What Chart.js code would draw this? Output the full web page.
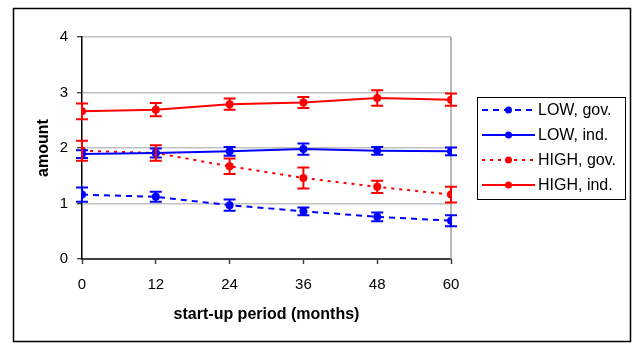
<!DOCTYPE html>
<html>
<head>
<meta charset="utf-8">
<script src="https://cdn.jsdelivr.net/npm/chart.js@4"></script>
<style>
  html, body { margin: 0; padding: 0; background: #fff; }
  canvas { display: block; }
</style>
</head>
<body>
<canvas id="chart" width="636" height="344"></canvas>
<script>
// data
const months = [0, 12, 24, 36, 48, 60];
const yTicks = [0, 1, 2, 3, 4];
const seriesNames = ['LOW, gov.', 'LOW, ind.', 'HIGH, gov.', 'HIGH, ind.'];

const lowGov = [1.16, 1.12, 0.97, 0.86, 0.76, 0.69];
const lowGovErr = [0.13, 0.09, 0.10, 0.07, 0.08, 0.10];
const lowInd = [1.89, 1.91, 1.94, 1.98, 1.95, 1.94];
const lowIndErr = [0.07, 0.08, 0.08, 0.10, 0.07, 0.07];
const highGov = [1.95, 1.91, 1.67, 1.46, 1.30, 1.16];
const highGovErr = [0.18, 0.14, 0.14, 0.19, 0.11, 0.14];
const highInd = [2.66, 2.69, 2.79, 2.82, 2.90, 2.87];
const highIndErr = [0.14, 0.12, 0.10, 0.10, 0.14, 0.11];

const BLUE = '#0000ff';
const RED = '#ff0000';
Chart.defaults.font.family = '"Liberation Sans", Arial, sans-serif';
Chart.defaults.color = '#000';

function makeSet(label, values, errs, color, dash) {
  return {
    label,
    data: months.map((m, i) => ({ x: m, y: values[i] })),
    err: errs,
    borderColor: color,
    backgroundColor: color,
    borderWidth: 2,
    borderDash: dash,
    pointRadius: 4,
    pointBorderWidth: 0,
    pointBackgroundColor: color,
    tension: 0
  };
}

const datasets = [
  makeSet(seriesNames[0], lowGov, lowGovErr, BLUE, [6, 5]),
  makeSet(seriesNames[1], lowInd, lowIndErr, BLUE, []),
  makeSet(seriesNames[2], highGov, highGovErr, RED, [3, 5]),
  makeSet(seriesNames[3], highInd, highIndErr, RED, [])
];

// outer frame + right edge of the plot
const framePlugin = {
  id: 'frame',
  beforeDraw(chart) {
    const ctx = chart.ctx;
    ctx.save();
    ctx.fillStyle = '#fff';
    ctx.fillRect(0, 0, chart.width, chart.height);
    ctx.strokeStyle = '#000';
    ctx.lineWidth = 1.5;
    ctx.strokeRect(13.5, 8.5, 617, 333);
    ctx.restore();
  },
  beforeDatasetsDraw(chart) {
    const a = chart.chartArea;
    const ctx = chart.ctx;
    ctx.save();
    ctx.strokeStyle = '#a0a0a0';
    ctx.lineWidth = 1.5;
    ctx.beginPath();
    ctx.moveTo(a.right, a.top);
    ctx.lineTo(a.right, a.bottom);
    ctx.stroke();
    ctx.restore();
  }
};

// vertical error bars with caps
const errorBars = {
  id: 'errorBars',
  afterDatasetsDraw(chart) {
    const ctx = chart.ctx;
    const xs = chart.scales.x, ys = chart.scales.y;
    ctx.save();
    chart.data.datasets.forEach(ds => {
      ctx.strokeStyle = ds.borderColor;
      ctx.lineWidth = 2;
      ctx.setLineDash([]);
      ds.data.forEach((p, i) => {
        const x = xs.getPixelForValue(p.x);
        const y1 = ys.getPixelForValue(p.y + ds.err[i]);
        const y2 = ys.getPixelForValue(p.y - ds.err[i]);
        ctx.beginPath();
        ctx.moveTo(x, y1); ctx.lineTo(x, y2);
        ctx.moveTo(x - 6, y1); ctx.lineTo(x + 6, y1);
        ctx.moveTo(x - 6, y2); ctx.lineTo(x + 6, y2);
        ctx.stroke();
      });
    });
    ctx.restore();
  }
};

// boxed legend on the right, line + dot samples
const boxLegend = {
  id: 'boxLegend',
  afterDraw(chart) {
    const ctx = chart.ctx;
    ctx.save();
    ctx.strokeStyle = '#000';
    ctx.lineWidth = 1;
    ctx.strokeRect(477.5, 97.5, 148, 102);
    chart.data.datasets.forEach((ds, i) => {
      const y = 110 + i * 25;
      ctx.strokeStyle = ds.borderColor;
      ctx.lineWidth = 2;
      ctx.setLineDash(ds.borderDash);
      ctx.beginPath();
      ctx.moveTo(482, y); ctx.lineTo(535, y);
      ctx.stroke();
      ctx.setLineDash([]);
      ctx.fillStyle = ds.borderColor;
      ctx.beginPath();
      ctx.arc(508.5, y, 3.5, 0, Math.PI * 2);
      ctx.fill();
      ctx.fillStyle = '#000';
      ctx.font = '16px "Liberation Sans", Arial, sans-serif';
      ctx.textBaseline = 'middle';
      ctx.fillText(ds.label, 538, y + 1);
    });
    ctx.restore();
  }
};

new Chart(document.getElementById('chart'), {
  type: 'line',
  data: { datasets },
  plugins: [framePlugin, errorBars, boxLegend],
  options: {
    responsive: false,
    animation: false,
    layout: { padding: { left: 13, top: 37, right: 185, bottom: 2 } },
    plugins: { legend: { display: false }, tooltip: { enabled: false } },
    scales: {
      x: {
        type: 'linear',
        min: 0,
        max: 60,
        afterBuildTicks: s => { s.ticks = months.map(v => ({ value: v })); },
        afterFit: s => { s.height = 83; },
        grid: { drawOnChartArea: false, tickLength: 5, tickColor: '#404040', tickWidth: 1.5 },
        border: { color: '#404040', width: 2 },
        ticks: { font: { size: 15 }, padding: 12, maxRotation: 0 },
        title: {
          display: true,
          text: 'start-up period (months)',
          font: { size: 16, weight: 'bold' },
          padding: { top: 10, bottom: 18 }
        }
      },
      y: {
        min: 0,
        max: 4,
        afterBuildTicks: s => { s.ticks = yTicks.map(v => ({ value: v })); },
        afterFit: s => { s.width = 69; },
        grid: { color: '#c0c0c0', lineWidth: 1.5, tickLength: 5, tickColor: '#000', tickWidth: 1 },
        border: { color: '#000', width: 1.5 },
        ticks: { font: { size: 15 }, padding: 9 },
        title: {
          display: true,
          text: 'amount',
          font: { size: 16, weight: 'bold' },
          padding: { top: 21, bottom: 0 }
        }
      }
    }
  }
});
</script>
</body>
</html>
